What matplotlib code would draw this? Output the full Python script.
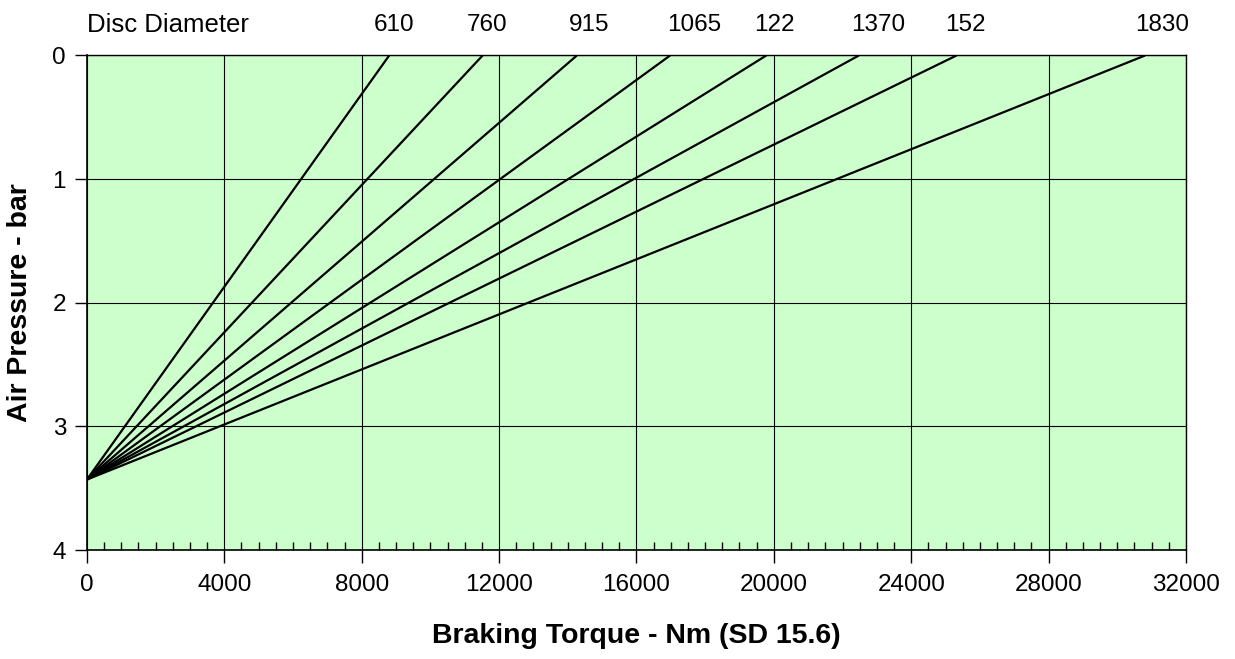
import matplotlib
matplotlib.use("Agg")
import matplotlib.pyplot as plt
from matplotlib.ticker import MultipleLocator
import matplotlib.transforms as mtransforms

plt.rcParams['font.family'] = ['Liberation Sans', 'DejaVu Sans']

# Data
disc_labels = ["610", "760", "915", "1065", "122", "1370", "152", "1830"]
torque_at_zero_pressure = [8800, 11520, 14265, 16980, 19780, 22475, 25320, 30810]
start_pressure = 3.43
label_x = [8930, 11640, 14610, 17670, 20030, 23030, 25570, 31300]

fig = plt.figure(figsize=(12.35, 6.59), dpi=100)
ax = fig.add_axes([0.0704, 0.1654, 0.8899, 0.7504])
ax.set_facecolor("#CCFFCC")

for xe in torque_at_zero_pressure:
    ax.plot([0, xe], [start_pressure, 0], color="black", lw=1.6, solid_capstyle="butt", zorder=3)

ax.set_xlim(0, 32000)
ax.set_ylim(4, 0)
ax.xaxis.set_major_locator(MultipleLocator(4000))
ax.xaxis.set_minor_locator(MultipleLocator(500))
ax.yaxis.set_major_locator(MultipleLocator(1))
ax.grid(True, which="major", color="black", lw=0.8, zorder=1)
ax.set_axisbelow(True)

ax.tick_params(axis="x", which="major", direction="out", length=9, width=1, labelsize=17.5, pad=8)
ax.tick_params(axis="x", which="minor", direction="in", length=6, width=1)
ax.tick_params(axis="y", which="major", direction="out", length=9, width=1, labelsize=17.5, pad=6)

for s in ax.spines.values():
    s.set_color("black")
    s.set_linewidth(1.0)
ax.spines["left"].set_linewidth(1.2)
ax.spines["bottom"].set_linewidth(1.2)

ax.set_xlabel("Braking Torque - Nm (SD 15.6)", fontsize=20.5, fontweight="bold", labelpad=20)
ax.set_ylabel("Air Pressure - bar", fontsize=20.5, fontweight="bold")
ax.yaxis.set_label_coords(-0.049, 0.5)

trans = mtransforms.blended_transform_factory(ax.transData, fig.transFigure)
yt = 1 - 25 / 659
ax.text(0, yt, "Disc Diameter", transform=trans, ha="left", va="center", fontsize=18.5, clip_on=False)
for lab, xl in zip(disc_labels, label_x):
    ax.text(xl, yt, lab, transform=trans, ha="center", va="center", fontsize=17.5, clip_on=False)

fig.savefig("out.png", dpi=100)
